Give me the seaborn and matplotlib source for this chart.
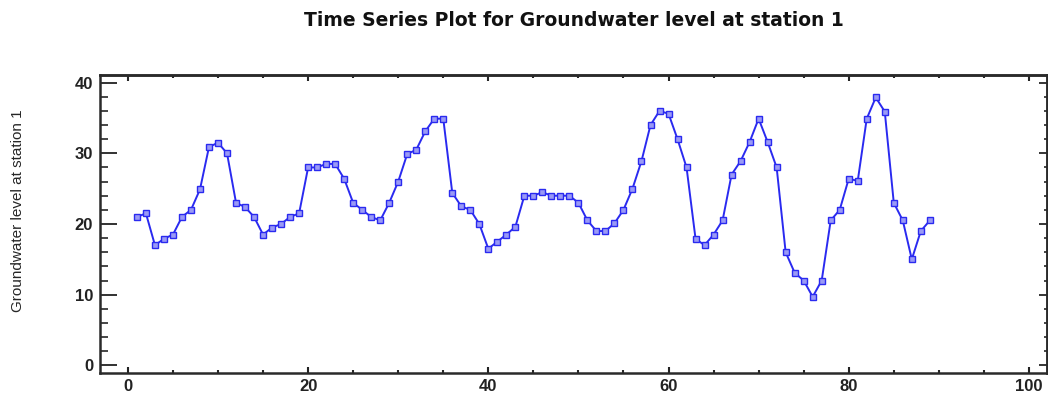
import seaborn as sns
import pandas as pd
import matplotlib.pyplot as plt
from matplotlib.ticker import MultipleLocator

# groundwater level readings, observation 1..89
level = [
    21.0, 21.5, 17.0, 17.9, 18.5, 21.0, 22.0, 24.9, 30.9, 31.5,
    30.0, 23.0, 22.4, 21.0, 18.5, 19.5, 20.0, 21.0, 21.5, 28.0,
    28.0, 28.5, 28.5, 26.4, 23.0, 22.0, 21.0, 20.5, 23.0, 26.0,
    29.9, 30.5, 33.1, 34.9, 34.9, 24.4, 22.5, 22.0, 20.0, 16.5,
    17.5, 18.5, 19.6, 24.0, 24.0, 24.5, 24.0, 24.0, 24.0, 23.0,
    20.5, 19.0, 19.0, 20.1, 22.0, 25.0, 28.9, 34.0, 36.0, 35.6,
    32.0, 28.0, 17.9, 17.0, 18.5, 20.5, 27.0, 28.9, 31.6, 34.9,
    31.6, 28.0, 16.0, 13.1, 12.0, 9.7, 12.0, 20.5, 22.0, 26.4,
    26.1, 34.9, 37.9, 35.9, 23.0, 20.5, 15.0, 19.0, 20.5,
]
obs = list(range(1, len(level) + 1))

frame = pd.DataFrame({"obs": obs, "level": level})

sns.set_style("ticks")
plt.rcParams["font.family"] = ["Liberation Sans", "DejaVu Sans"]

fig = plt.figure(figsize=(10.48, 3.94), dpi=100)
ax = fig.add_axes([0.0954, 0.053, 0.9036, 0.757])

sns.lineplot(data=frame, x="obs", y="level", ax=ax, color="#2a2af0",
             linewidth=1.4, marker="s", markersize=5,
             markerfacecolor="#9a9af5", markeredgecolor="#2a2af0",
             markeredgewidth=1.0)

ax.set_xlim(-3.1, 102)
ax.set_ylim(-1.1, 41.1)
ax.xaxis.set_major_locator(MultipleLocator(20))
ax.xaxis.set_minor_locator(MultipleLocator(5))
ax.yaxis.set_major_locator(MultipleLocator(10))
ax.yaxis.set_minor_locator(MultipleLocator(2))

for s in ax.spines.values():
    s.set_visible(True)
    s.set_linewidth(1.8)
    s.set_color("#2a2a2a")

ax.tick_params(axis="x", which="major", direction="in", length=4, width=1.5,
               labelsize=12, pad=4, colors="#222222")
ax.tick_params(axis="x", which="minor", direction="in", length=2.5, width=1.5)
ax.tick_params(axis="y", which="major", direction="in", length=12, width=1.3,
               labelsize=12, pad=5, colors="#222222")
ax.tick_params(axis="y", which="minor", direction="in", length=6, width=1.2)
for lab in ax.get_xticklabels() + ax.get_yticklabels():
    lab.set_fontweight("bold")

# ticks on the opposite sides
right = ax.secondary_yaxis("right")
right.yaxis.set_major_locator(MultipleLocator(10))
right.yaxis.set_minor_locator(MultipleLocator(2))
right.tick_params(which="major", direction="in", length=6, width=1.3, labelright=False)
right.tick_params(which="minor", direction="in", length=2, width=1.2)
right.spines["right"].set_linewidth(1.8)
top = ax.secondary_xaxis("top")
top.xaxis.set_major_locator(MultipleLocator(20))
top.xaxis.set_minor_locator(MultipleLocator(5))
top.tick_params(which="major", direction="in", length=4, width=1.5, labeltop=False)
top.tick_params(which="minor", direction="in", length=2.5, width=1.5)
top.spines["top"].set_linewidth(1.8)

ax.set_xlabel("")
ax.set_ylabel("Groundwater level at station 1", fontsize=11)
ax.yaxis.set_label_coords(-0.079, 0.544)
fig.text(0.548, 0.948, "Time Series Plot for Groundwater level at station 1",
         ha="center", va="center", fontsize=13.5, fontweight="bold",
         family="DejaVu Sans", color="#111111")

fig.savefig("out.png", dpi=100)
